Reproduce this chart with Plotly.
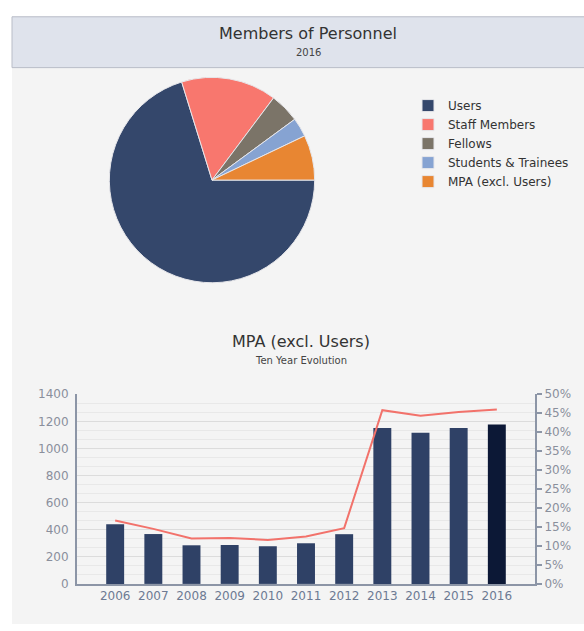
import plotly.graph_objects as go

# ---- data ----
pie_labels = ["Users", "Staff Members", "Fellows", "Students & Trainees", "MPA (excl. Users)"]
pie_values = [11700, 2500, 780, 500, 1180]
pie_colors = ["#34476b", "#f8776e", "#7b7468", "#86a3d2", "#e88632"]

years = ["2006", "2007", "2008", "2009", "2010", "2011", "2012", "2013", "2014", "2015", "2016"]
mpa_counts = [440, 368, 285, 287, 278, 300, 367, 1150, 1115, 1150, 1177]
mpa_percent = [16.7, 14.5, 12.0, 12.1, 11.6, 12.5, 14.7, 45.8, 44.3, 45.3, 46.0]
bar_colors = ["#2f4166"] * 10 + ["#0c1836"]

W, H = 584, 631
FONT = "DejaVu Sans"


def py(y):
    """pixels from top -> paper fraction"""
    return 1 - y / H


fig = go.Figure()

fig.add_trace(go.Pie(
    labels=pie_labels, values=pie_values, sort=False, direction="clockwise",
    rotation=90, textinfo="none", hoverinfo="label+value+percent",
    marker=dict(colors=pie_colors, line=dict(color="#e6e6ea", width=1)),
    domain=dict(x=[107 / W, 317 / W], y=[py(282), py(72)]),
    showlegend=True,
))

fig.add_trace(go.Bar(
    x=years, y=mpa_counts, marker=dict(color=bar_colors, line=dict(width=0)),
    width=0.47, xaxis="x", yaxis="y", showlegend=False,
))
fig.add_trace(go.Scatter(
    x=years, y=mpa_percent, mode="lines", line=dict(color="#f2726b", width=2),
    xaxis="x", yaxis="y2", showlegend=False,
))

axis_line = "#8c95a6"
fig.update_layout(
    width=W, height=H, margin=dict(l=0, r=0, t=0, b=0),
    paper_bgcolor="white", plot_bgcolor="rgba(0,0,0,0)",
    font=dict(family=FONT, color="#333333"),
    bargap=0.5,
    legend=dict(x=408 / W, y=py(86), xanchor="left", yanchor="top",
                font=dict(family=FONT, size=12, color="#333333"),
                bgcolor="rgba(0,0,0,0)", itemclick=False, tracegroupgap=0),
    xaxis=dict(domain=[77 / W, 535 / W], anchor="y", type="category",
               range=[-1, 11], showgrid=False, zeroline=False,
               showline=True, linecolor=axis_line, linewidth=2,
               ticks="", tickfont=dict(size=12, color="#6d7a93"),
               fixedrange=True),
    yaxis=dict(domain=[py(590), py(396)], range=[0, 1400], dtick=200,
               showline=True, linecolor=axis_line, linewidth=2,
               showgrid=True, gridcolor="#dcdcdc", gridwidth=1,
               minor=dict(dtick=200 / 3, showgrid=True, gridcolor="#e8e8e8", gridwidth=1),
               zeroline=False, ticks="", ticklabelstandoff=4,
               tickfont=dict(size=12, color="#8a8f9c"), fixedrange=True),
    yaxis2=dict(overlaying="y", side="right", anchor="x", range=[0, 50], dtick=5,
                ticksuffix="%", showgrid=False, zeroline=False,
                showline=True, linecolor=axis_line, linewidth=2,
                ticks="outside", ticklen=5, tickcolor=axis_line, tickwidth=2,
                tickfont=dict(size=12, color="#8a8f9c"), fixedrange=True),
    shapes=[
        dict(type="rect", xref="paper", yref="paper", x0=12 / W, x1=1.0,
             y0=0, y1=py(62), fillcolor="#f4f4f4", line=dict(width=0), layer="below"),
        dict(type="rect", xref="paper", yref="paper", x0=12 / W, x1=1.0 + 2 / W,
             y0=py(62), y1=py(10), fillcolor="#dfe3ec",
             line=dict(color="#b9bdc7", width=1), layer="below"),
    ],
    annotations=[
        dict(text="Members of Personnel", x=308 / W, y=py(27), xref="paper", yref="paper",
             showarrow=False, font=dict(size=16, color="#333333"), xanchor="center", yanchor="middle"),
        dict(text="2016", x=308 / W, y=py(47), xref="paper", yref="paper",
             showarrow=False, font=dict(size=10, color="#444444"), xanchor="center", yanchor="middle"),
        dict(text="MPA (excl. Users)", x=301 / W, y=py(342), xref="paper", yref="paper",
             showarrow=False, font=dict(size=16, color="#333333"), xanchor="center", yanchor="middle"),
        dict(text="Ten Year Evolution", x=301 / W, y=py(362), xref="paper", yref="paper",
             showarrow=False, font=dict(size=10, color="#444444"), xanchor="center", yanchor="middle"),
    ],
)

fig.write_html("out.html")
